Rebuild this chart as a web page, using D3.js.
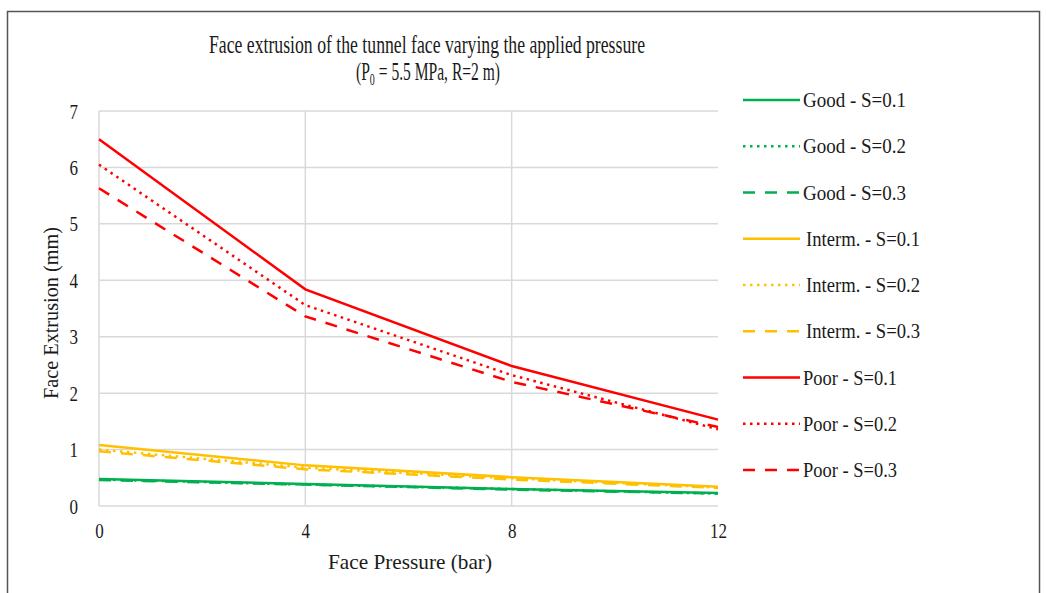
<!DOCTYPE html>
<html><head><meta charset="utf-8">
<script src="https://cdn.jsdelivr.net/npm/d3@7"></script>
<style>body{margin:0;background:#fff}svg{display:block}text{font-family:"Liberation Serif","Times New Roman",serif;fill:#1a1a1a}</style>
</head><body><svg id="c" width="1047" height="593"></svg>
<script>
const pressures = [0, 4, 8, 12];
const seriesNames = ["Good - S=0.1","Good - S=0.2","Good - S=0.3","Interm. - S=0.1","Interm. - S=0.2","Interm. - S=0.3","Poor - S=0.1","Poor - S=0.2","Poor - S=0.3"];
const goodS01 = [0.48, 0.39, 0.30, 0.23];
const goodS02 = [0.47, 0.38, 0.30, 0.22];
const goodS03 = [0.46, 0.38, 0.29, 0.22];
const intS01 = [1.08, 0.72, 0.51, 0.34];
const intS02 = [1.00, 0.68, 0.49, 0.33];
const intS03 = [0.97, 0.65, 0.47, 0.32];
const poorS01 = [6.50, 3.84, 2.48, 1.53];
const poorS02 = [6.05, 3.56, 2.32, 1.36];
const poorS03 = [5.63, 3.36, 2.20, 1.40];
const yTicks = [0,1,2,3,4,5,6,7];
const xTicks = [0,4,8,12];

const values = [goodS01,goodS02,goodS03,intS01,intS02,intS03,poorS01,poorS02,poorS03];
const colors = ["#00b050","#00b050","#00b050","#ffc000","#ffc000","#ffc000","#ff0000","#ff0000","#ff0000"];
const dashes = [null,"2.5,4.5","12,10",null,"2.5,4.5","12,10",null,"2.5,4.5","12,10"];

const svg = d3.select("#c");
svg.append("rect").attr("x",7.5).attr("y",11.5).attr("width",1032).attr("height",600)
  .attr("fill","#fff").attr("stroke","#555").attr("stroke-width",1.5);

const x = d3.scaleLinear().domain([0,12]).range([99,718]);
const y = d3.scaleLinear().domain([0,7]).range([506,111]);

function fit(sel, w){ return sel.attr("textLength",w).attr("lengthAdjust","spacingAndGlyphs"); }

const g = svg.append("g");
g.selectAll(".hg").data(yTicks).join("line")
  .attr("x1",x(0)).attr("x2",x(12)).attr("y1",d=>y(d)).attr("y2",d=>y(d))
  .attr("stroke","#d9d9d9").attr("stroke-width",1.5);
g.selectAll(".vg").data(xTicks.filter(d=>d<12)).join("line")
  .attr("x1",d=>x(d)).attr("x2",d=>x(d)).attr("y1",y(7)).attr("y2",y(0))
  .attr("stroke","#d9d9d9").attr("stroke-width",1.5);

// axes
const yAxis = d3.axisLeft(y).tickValues(yTicks).tickFormat(d3.format("d")).tickSize(0).tickPadding(21);
const ya = svg.append("g").attr("transform",`translate(${x(0)},0)`).call(yAxis);
ya.attr("font-size",null).attr("font-family",null);
ya.select(".domain").remove();
ya.selectAll("text").attr("font-size",21).attr("fill","#1a1a1a").attr("dy","0.34em")
  .each(function(d){ fit(d3.select(this), String(d).length*8.5); });
const xAxis = d3.axisBottom(x).tickValues(xTicks).tickFormat(d3.format("d")).tickSize(0).tickPadding(17);
const xa = svg.append("g").attr("transform",`translate(0,${y(0)})`).call(xAxis);
xa.attr("font-size",null).attr("font-family",null);
xa.select(".domain").remove();
xa.selectAll("text").attr("font-size",21).attr("fill","#1a1a1a").attr("y",32).attr("dy",0)
  .each(function(d){ fit(d3.select(this), String(d).length*8.5); });

// lines
const line = d3.line().x((d,i)=>x(pressures[i])).y(d=>y(d));
values.forEach((v,i)=>{
  svg.append("path").datum(v).attr("d",line).attr("fill","none")
    .attr("stroke",colors[i]).attr("stroke-width",2.5)
    .attr("stroke-dasharray",dashes[i]);
});

// titles
fit(svg.append("text").attr("x",427).attr("y",53).attr("text-anchor","middle").attr("font-size",25)
  .text("Face extrusion of the tunnel face varying the applied pressure"), 436);
const sg = svg.append("g");
const t2 = sg.append("text").attr("x",0).attr("y",0).attr("text-anchor","middle").attr("font-size",25);
t2.append("tspan").text("(P");
t2.append("tspan").attr("font-size",16).attr("dy",5).text("0");
t2.append("tspan").attr("dy",-5).text(" = 5.5 MPa, R=2 m)");
const w2 = t2.node().getBBox().width;
sg.attr("transform",`translate(428,80) scale(${144/w2},1)`);

fit(svg.append("text").attr("x",410).attr("y",569).attr("text-anchor","middle").attr("font-size",21)
  .text("Face Pressure (bar)"), 164);
fit(svg.append("text").attr("transform","translate(58,313) rotate(-90)").attr("text-anchor","middle").attr("font-size",21)
  .text("Face Extrusion (mm)"), 172);

// legend
const legY = d3.scaleLinear().domain([0,8]).range([100,470]);
const legW = {"Good":103,"Interm.":114,"Poor":94};
seriesNames.forEach((n,i)=>{
  const yy = legY(i);
  svg.append("line").attr("x1",743).attr("x2",800).attr("y1",yy).attr("y2",yy)
    .attr("stroke",colors[i]).attr("stroke-width",2.5).attr("stroke-dasharray",dashes[i]);
  const key = n.split(" ")[0];
  fit(svg.append("text").attr("x", key==="Interm." ? 806 : 803).attr("y",yy+7)
    .attr("font-size",20).text(n), legW[key]);
});
</script></body></html>
